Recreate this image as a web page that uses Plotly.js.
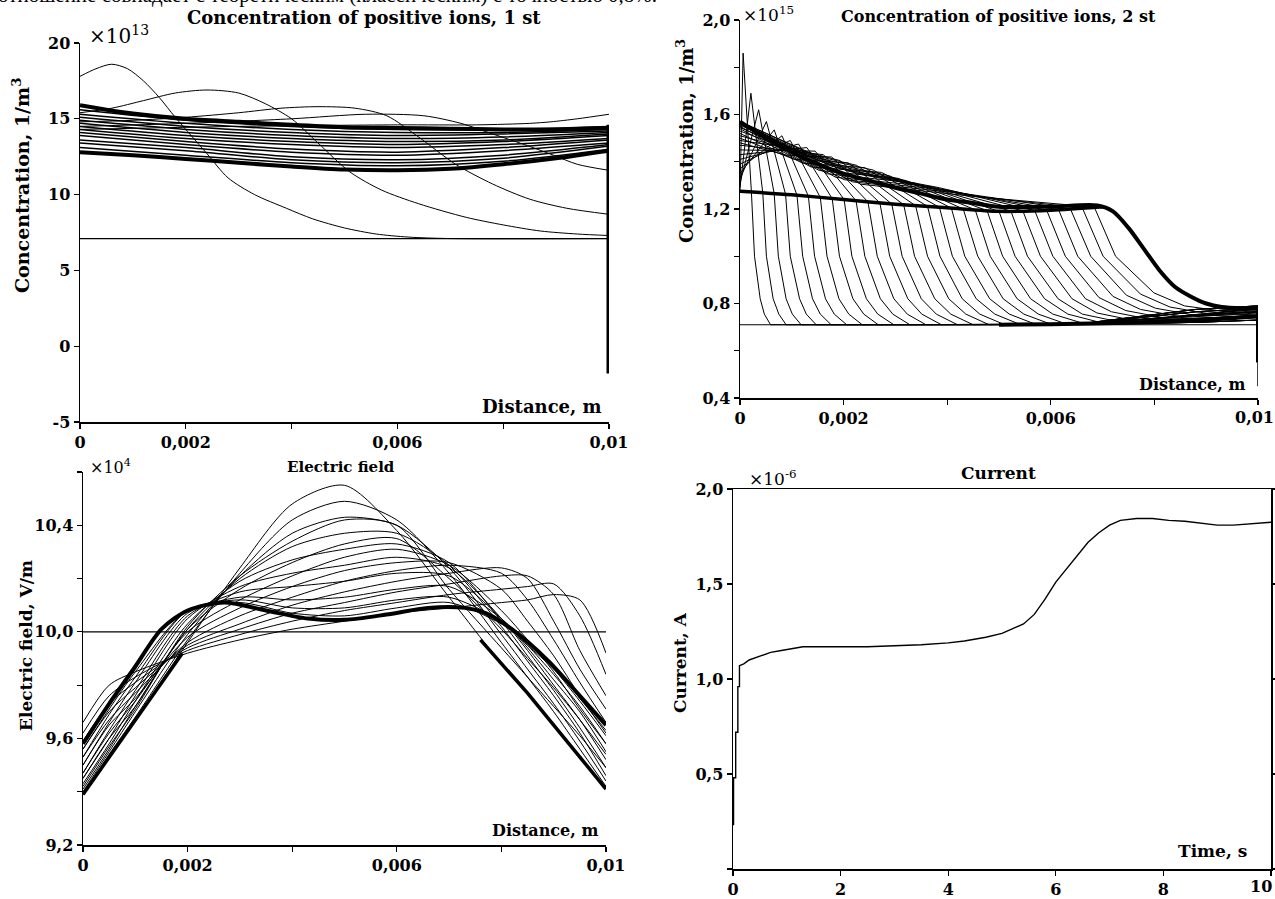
<!DOCTYPE html>
<html><head><meta charset="utf-8">
<script src="https://cdn.plot.ly/plotly-3.0.1.min.js"></script>
<style>html,body{margin:0;padding:0;background:#fff;}#chart{width:1275px;height:899px;}</style>
</head><body><div id="chart"></div>
<script>
// ================= DATA =================
// Panel 1: concentration of positive ions, 1 st  (x in mm, y in 1e13 1/m^3)
const p1BaseX = [0, 10];
const p1BaseY = [7.1, 7.1];
const p1Transients = [
  [[0,0.3,0.6,0.9,1.2,1.5,1.8,2.1,2.4,2.8,3.3,3.9,4.4,5.0,5.6,6.2,7.0,10],
   [17.8,18.3,18.6,18.3,17.5,16.4,15.1,13.9,12.7,11.1,10.0,9.1,8.4,7.8,7.4,7.2,7.1,7.1]],
  [[0,0.6,1.2,1.8,2.4,3.0,3.5,4.0,4.5,5.1,5.7,6.4,7.3,8.0,8.7,9.4,10],
   [15.4,15.7,16.2,16.7,16.9,16.7,16.0,15.0,13.4,11.5,10.3,9.4,8.5,8.0,7.6,7.4,7.3]],
  [[0,1,2,3,3.8,4.5,5.2,5.8,6.4,7.1,7.8,8.5,9.2,10],
   [14.8,14.9,15.1,15.4,15.7,15.8,15.7,15.2,13.8,12.0,10.7,9.7,9.1,8.7]],
  [[0,2,4,5.4,6.5,7.2,7.8,8.4,8.95,9.4,10],
   [14.5,14.7,15.0,15.3,15.2,14.7,14.0,13.3,12.6,12.0,11.6]],
  [[0,3,6,7.5,8.5,8.9,9.4,10],
   [14.3,14.5,14.6,14.6,14.7,14.8,15.0,15.3]]
];
const p1BandX = [0, 2, 4, 6, 8, 10];
const p1BandY = [
  [15.6,14.9,14.5,14.3,14.3,14.5],
  [15.3,14.7,14.3,14.1,14.1,14.3],
  [15.1,14.5,14.1,13.9,14.0,14.2],
  [14.9,14.3,13.9,13.7,13.8,14.1],
  [14.7,14.1,13.7,13.5,13.6,14.0],
  [14.5,13.9,13.5,13.3,13.5,13.9],
  [14.3,13.7,13.3,13.1,13.3,13.7],
  [14.1,13.5,13.0,12.8,13.1,13.6],
  [13.9,13.3,12.8,12.6,12.9,13.4],
  [13.6,13.1,12.5,12.3,12.6,13.3],
  [13.4,12.9,12.3,12.1,12.4,13.2],
  [13.1,12.6,12.1,11.9,12.2,13.0]
];
const p1TopX = [0,0.5,1,2,3,4,5,6,7,8,9,10];
const p1TopY = [15.9,15.6,15.35,15.0,14.8,14.6,14.45,14.4,14.35,14.3,14.3,14.4];
const p1BotX = [0,1,2,3,4,5,6,7,8,9,10];
const p1BotY = [12.8,12.6,12.35,12.1,11.85,11.65,11.6,11.7,12.0,12.4,12.9];
const p1EdgeX = [10, 10];
const p1EdgeY = [14.6, -1.8];

// Panel 2: concentration of positive ions, 2 st (x in mm, y in 1e15 1/m^3)
const p2BaseX = [0, 10];
const p2BaseY = [0.71, 0.71];
const p2Curves = [
  [[0,0.06,0.22,0.28,0.39,0.47,0.59,6.5,8.8,10],[1.275,1.86,1.272,1.0,0.82,0.755,0.71,0.712,0.72,0.73]],
  [[0,0.21,0.44,0.51,0.64,0.75,0.89,6.5,8.8,10],[1.29,1.69,1.268,1.0,0.82,0.755,0.71,0.712,0.735,0.75]],
  [[0,0.36,0.66,0.74,0.89,1.01,1.18,6.5,8.8,10],[1.31,1.62,1.265,1.0,0.82,0.755,0.71,0.712,0.75,0.765]],
  [[0,0.51,0.88,0.97,1.15,1.28,1.47,6.5,8.8,10],[1.33,1.57,1.262,1.0,0.82,0.755,0.71,0.712,0.765,0.78]],
  [[0,0.66,1.10,1.21,1.40,1.55,1.76,6.5,8.8,10],[1.35,1.535,1.258,1.0,0.82,0.755,0.71,0.712,0.775,0.79]],
  [[0,0.81,1.32,1.44,1.65,1.82,2.06,6.5,8.8,10],[1.37,1.51,1.254,1.0,0.82,0.755,0.71,0.712,0.72,0.73]],
  [[0,0.97,1.55,1.68,1.91,2.10,2.36,6.5,8.8,10],[1.39,1.49,1.249,1.0,0.82,0.755,0.71,0.712,0.735,0.75]],
  [[0,1.13,1.78,1.92,2.18,2.39,2.67,6.5,8.8,10],[1.41,1.475,1.244,1.0,0.82,0.755,0.71,0.712,0.75,0.765]],
  [[0,1.29,2.01,2.16,2.44,2.66,2.97,6.5,8.8,10],[1.43,1.46,1.24,1.0,0.82,0.755,0.71,0.712,0.765,0.78]],
  [[0,1.45,2.24,2.41,2.71,2.95,3.28,6.5,8.8,10],[1.45,1.445,1.235,1.0,0.82,0.755,0.71,0.712,0.775,0.79]],
  [[0,1.61,2.47,2.65,2.97,3.23,3.59,6.5,8.8,10],[1.47,1.43,1.23,1.0,0.82,0.755,0.71,0.712,0.72,0.73]],
  [[0,0.89,1.77,2.70,2.89,3.24,3.51,3.89,6.5,8.8,10],[1.48,1.428,1.42,1.226,1.0,0.82,0.755,0.71,0.712,0.735,0.75]],
  [[0,0.97,1.93,2.93,3.13,3.50,3.79,4.20,6.5,8.8,10],[1.49,1.459,1.405,1.221,1.0,0.82,0.755,0.71,0.712,0.75,0.765]],
  [[0,1.05,2.09,3.16,3.37,3.76,4.07,4.50,6.5,8.8,10],[1.50,1.41,1.395,1.218,1.0,0.82,0.755,0.71,0.712,0.765,0.78]],
  [[0,1.13,2.25,3.39,3.62,4.03,4.36,4.81,6.5,8.8,10],[1.51,1.442,1.385,1.214,1.0,0.82,0.755,0.71,0.712,0.775,0.79]],
  [[0,1.21,2.41,3.62,3.86,4.29,4.63,5.11,6.5,8.8,10],[1.52,1.394,1.375,1.211,1.0,0.82,0.755,0.71,0.712,0.72,0.73]],
  [[0,1.29,2.57,3.85,4.10,4.56,4.92,5.42,6.5,8.8,10],[1.53,1.426,1.365,1.207,1.0,0.82,0.755,0.71,0.712,0.735,0.75]],
  [[0,1.37,2.73,4.08,4.34,4.82,5.20,5.73,6.5,8.8,10],[1.54,1.378,1.355,1.204,1.0,0.82,0.755,0.71,0.712,0.75,0.765]],
  [[0,1.45,2.89,4.31,4.59,5.08,5.48,6.03,6.5,8.8,10],[1.545,1.41,1.34,1.20,1.0,0.82,0.755,0.71,0.712,0.765,0.78]],
  [[0,1.53,3.05,4.54,4.83,5.35,5.76,6.34,6.5,8.8,10],[1.55,1.363,1.33,1.197,1.0,0.82,0.755,0.71,0.712,0.775,0.79]],
  [[0,1.61,3.21,4.77,5.07,5.61,6.04,6.64,10],[1.555,1.396,1.32,1.193,1.0,0.82,0.755,0.715,0.74]],
  [[0,1.69,3.37,5.00,5.31,5.88,6.33,6.95,10],[1.56,1.349,1.31,1.19,1.0,0.82,0.755,0.72,0.76]],
  [[0,1.77,3.53,5.23,5.55,6.14,6.61,7.26,10],[1.56,1.381,1.30,1.191,1.0,0.82,0.755,0.725,0.775]],
  [[0,1.85,3.69,5.46,5.80,6.41,6.89,7.56,10],[1.565,1.334,1.295,1.192,1.0,0.82,0.76,0.73,0.745]],
  [[0,1.93,3.85,5.69,6.04,6.67,7.17,7.87,10],[1.565,1.37,1.29,1.193,1.0,0.82,0.765,0.735,0.765]],
  [[0,2.01,4.01,5.92,6.28,6.93,7.45,8.17,10],[1.57,1.324,1.28,1.195,1.0,0.825,0.77,0.74,0.78]],
  [[0,2.09,4.17,6.15,6.52,7.20,7.73,8.48,10],[1.57,1.36,1.27,1.197,1.0,0.83,0.775,0.745,0.755]],
  [[0,2.17,4.33,6.38,6.77,7.46,8.02,8.79,10],[1.57,1.315,1.265,1.20,1.0,0.835,0.78,0.75,0.77]],
  [[0,2.25,4.49,6.61,7.01,7.73,8.30,9.09,10],[1.57,1.35,1.255,1.204,1.0,0.84,0.785,0.755,0.785]],
  [[0,2.33,4.65,6.84,7.25,7.99,8.58,9.40,10],[1.57,1.305,1.25,1.208,1.0,0.845,0.79,0.765,0.775]]
];
const p2TopX = [0,0.5,1,1.5,2,2.5,3,3.5,4,4.5,5,6,6.9,7.2,7.5,7.8,8.1,8.4,8.7,9.0,9.3,9.7,10];
const p2TopY = [1.57,1.50,1.44,1.39,1.35,1.32,1.29,1.265,1.24,1.225,1.21,1.21,1.215,1.19,1.12,1.03,0.94,0.87,0.83,0.80,0.785,0.78,0.78];
const p2LowX = [0,1,2,3,4,5,6,7];
const p2LowY = [1.275,1.26,1.24,1.22,1.205,1.19,1.195,1.21];
const p2FloorX = [5,6,7,8,9,9.6,10];
const p2FloorY = [0.71,0.712,0.716,0.722,0.73,0.74,0.745];
const p2EdgeX = [10, 10];
const p2EdgeY = [0.79, 0.55];
const p2TipX = [10, 10];
const p2TipY = [0.55, 0.45];

// Panel 3: electric field (x in mm, y in 1e4 V/m)
const p3InitX = [0, 10];
const p3InitY = [10.0, 10.0];
const p3GridX = [0,0.5,1,2,3,4,5,6,7,8,8.5,9,9.5,10];
const p3Curves = [
  [9.66,9.80,9.85,9.92,9.97,10.01,10.04,10.07,10.09,10.11,10.12,10.14,10.12,9.92],
  [9.62,9.76,9.83,9.93,9.99,10.04,10.08,10.11,10.14,10.16,10.17,10.18,10.06,9.84],
  [9.59,9.73,9.81,9.94,10.01,10.07,10.11,10.15,10.18,10.21,10.21,10.14,9.93,9.76],
  [9.56,9.70,9.79,9.95,10.03,10.10,10.15,10.19,10.22,10.24,10.20,10.04,9.86,9.71],
  [9.53,9.67,9.77,9.96,10.06,10.13,10.19,10.23,10.25,10.22,10.12,9.97,9.81,9.66],
  [9.50,9.65,9.75,9.98,10.09,10.17,10.23,10.26,10.26,10.16,10.04,9.91,9.76,9.62],
  [9.47,9.62,9.74,10.00,10.12,10.21,10.28,10.31,10.25,10.08,9.97,9.85,9.71,9.58],
  [9.45,9.60,9.72,10.01,10.16,10.26,10.33,10.35,10.20,10.01,9.90,9.79,9.67,9.54],
  [9.42,9.57,9.71,10.02,10.21,10.34,10.42,10.40,10.16,9.94,9.83,9.72,9.61,9.49],
  [9.39,9.53,9.67,9.96,10.24,10.48,10.55,10.38,10.13,9.88,9.77,9.65,9.53,9.41],
  [9.39,9.54,9.68,9.97,10.22,10.42,10.49,10.42,10.22,9.96,9.83,9.70,9.56,9.42],
  [9.40,9.55,9.70,9.99,10.21,10.37,10.43,10.40,10.24,9.99,9.86,9.73,9.59,9.44],
  [9.41,9.56,9.72,10.01,10.20,10.32,10.37,10.37,10.25,10.02,9.89,9.76,9.62,9.46],
  [9.43,9.58,9.74,10.03,10.19,10.27,10.31,10.33,10.26,10.04,9.91,9.78,9.64,9.49],
  [9.45,9.60,9.76,10.05,10.17,10.22,10.25,10.28,10.24,10.05,9.93,9.80,9.67,9.52],
  [9.47,9.63,9.78,10.06,10.15,10.17,10.19,10.22,10.21,10.05,9.94,9.82,9.70,9.55],
  [9.50,9.66,9.81,10.07,10.13,10.12,10.13,10.16,10.17,10.05,9.95,9.84,9.72,9.58],
  [9.53,9.69,9.83,10.08,10.12,10.09,10.09,10.12,10.13,10.04,9.95,9.86,9.74,9.61],
  [9.56,9.71,9.85,10.08,10.11,10.07,10.06,10.09,10.11,10.03,9.96,9.87,9.75,9.63]
];
const p3SteadyX = [0,0.5,1.0,1.5,2.0,2.7,3.5,4.3,5.0,5.8,6.6,7.3,7.7,8.2,8.9,9.5,10];
const p3SteadyY = [9.58,9.73,9.87,10.01,10.08,10.11,10.08,10.05,10.045,10.065,10.09,10.09,10.07,10.01,9.89,9.76,9.65];
const p3LeftEdgeX = [0, 0.5, 1, 1.5, 1.9];
const p3LeftEdgeY = [9.39, 9.53, 9.67, 9.81, 9.92];
const p3RightEdgeX = [7.6, 8, 8.5, 9, 9.5, 10];
const p3RightEdgeY = [9.97, 9.88, 9.77, 9.65, 9.53, 9.41];

// Panel 4: current (time s, current 1e-6 A)
const p4Time = [0.01,0.01,0.05,0.05,0.09,0.09,0.12,0.12,0.2,0.3,0.5,0.7,0.9,1.1,1.3,1.6,2.0,2.5,3.0,3.5,4.0,4.3,4.7,5.0,5.2,5.4,5.6,5.8,6.0,6.2,6.4,6.6,6.8,7.0,7.2,7.5,7.8,8.1,8.4,8.7,9.0,9.3,9.6,10.0];
const p4Current = [0.23,0.48,0.48,0.72,0.72,0.96,0.96,1.07,1.08,1.10,1.12,1.14,1.15,1.16,1.17,1.17,1.17,1.17,1.175,1.18,1.19,1.20,1.22,1.24,1.265,1.29,1.34,1.42,1.51,1.58,1.65,1.72,1.77,1.81,1.835,1.845,1.845,1.835,1.83,1.82,1.81,1.81,1.815,1.825];

// tick labels
const distTickVals = [0,2,4,6,8,10];
const distTickText = ['0','0,002','','0,006','','0,01'];
const distTickTextEdge = ['0','0,002','','0,006','',''];   // last label drawn as a note (right edge)
const p1TickVals = [-5,0,5,10,15,20];
const p1TickText = ['-5','0','5','10','15','20'];
const p2TickVals = [0.4,0.6,0.8,1.0,1.2,1.4,1.6,1.8,2.0];
const p2TickText = ['0,4','','0,8','','1,2','','1,6','','2,0'];
const p3TickVals = [9.2,9.4,9.6,9.8,10.0,10.2,10.4,10.6];
const p3TickText = ['9,2','','9,6','','10,0','','10,4',''];
const p4TickValsY = [0,0.5,1.0,1.5,2.0];
const p4TickTextY = ['','0,5','1,0','1,5','2,0'];
const p4TickValsX = [0,2,4,6,8,10];
const p4TickTextX = ['0','2','4','6','8',''];    // "10" drawn as a note (right edge)

// ================= BUILD =================
const W = 1275, H = 899;
const px = v => v / W;
const py = v => 1 - v / H;
const K = '#000';
const traces = [];
function line(x, y, ax, w, shape) {
  traces.push({x: x, y: y, type: 'scatter', mode: 'lines', xaxis: ax[0], yaxis: ax[1],
    line: {color: K, width: w, shape: shape || 'linear', smoothing: 0.8}, hoverinfo: 'skip'});
}
const A1 = ['x','y'], A2 = ['x2','y2'], A3 = ['x3','y3'], A4 = ['x4','y4'];

// panel 1
line(p1BaseX, p1BaseY, A1, 1.2);
p1Transients.forEach(c => line(c[0], c[1], A1, 1, 'spline'));
p1BandY.forEach(ys => line(p1BandX, ys, A1, 1.5, 'spline'));
line(p1TopX, p1TopY, A1, 4, 'spline');
line(p1BotX, p1BotY, A1, 4, 'spline');
line(p1EdgeX, p1EdgeY, A1, 5);

// panel 2
line(p2BaseX, p2BaseY, A2, 1.2);
p2Curves.forEach(c => line(c[0], c[1], A2, 1));
line(p2TopX, p2TopY, A2, 4, 'spline');
line(p2LowX, p2LowY, A2, 3.5, 'spline');
line(p2FloorX, p2FloorY, A2, 4, 'spline');
line(p2EdgeX, p2EdgeY, A2, 4);
line(p2TipX, p2TipY, A2, 1.5);

// panel 3
line(p3InitX, p3InitY, A3, 1.2);
p3Curves.forEach(ys => line(p3GridX, ys, A3, 1, 'spline'));
line(p3LeftEdgeX, p3LeftEdgeY, A3, 3.5);
line(p3RightEdgeX, p3RightEdgeY, A3, 3.5);
line(p3SteadyX, p3SteadyY, A3, 4, 'spline');

// panel 4
line(p4Time, p4Current, A4, 1.4);

const tickFont = {family: 'DejaVu Serif', size: 16, color: K, weight: 'bold'};
function axis(dom, rng, tv, tt, extra) {
  return Object.assign({domain: dom, range: rng, tickmode: 'array', tickvals: tv, ticktext: tt,
    showline: true, linecolor: K, linewidth: 1.5, ticks: 'outside', ticklen: 5, tickwidth: 1.2, tickcolor: K,
    showgrid: false, zeroline: false, tickfont: tickFont, fixedrange: true,
    ticklabeloverflow: 'allow'}, extra || {});
}

const layout = {
  width: W, height: H, margin: {l: 0, r: 0, t: 0, b: 0},
  paper_bgcolor: '#fff', plot_bgcolor: 'rgba(0,0,0,0)', showlegend: false, hovermode: false,
  xaxis: axis([px(80), px(609)], [0, 10], distTickVals, distTickText, {anchor: 'y'}),
  yaxis: axis([py(422), py(43)], [-5, 20], p1TickVals, p1TickText, {anchor: 'x'}),
  xaxis2: axis([px(740), px(1258)], [0, 10], distTickVals, distTickTextEdge, {anchor: 'y2'}),
  yaxis2: axis([py(398), py(20)], [0.4, 2.0], p2TickVals, p2TickText, {anchor: 'x2'}),
  xaxis3: axis([px(83), px(606)], [0, 10], distTickVals, distTickText, {anchor: 'y3'}),
  yaxis3: axis([py(845), py(472)], [9.2, 10.6], p3TickVals, p3TickText, {anchor: 'x3'}),
  xaxis4: axis([px(733), px(1271)], [0, 10], p4TickValsX, p4TickTextX, {anchor: 'y4', mirror: true}),
  yaxis4: axis([py(869), py(489)], [0, 2.0], p4TickValsY, p4TickTextY, {anchor: 'x4', mirror: 'ticks'}),
  annotations: []
};

function note(text, x, y, size, opts) {
  layout.annotations.push(Object.assign({text: text, x: px(x), y: py(y), xref: 'paper', yref: 'paper',
    showarrow: false, xanchor: 'center', yanchor: 'middle',
    font: {family: 'DejaVu Serif', size: size, color: K}}, opts || {}));
}
const serif = 'Liberation Serif';
// cut-off line of document text at the very top
note('отношение совпадает с теоретическим (классическим) с точностью 0,8%.', -4, -5, 21,
  {xanchor: 'left', font: {family: serif, size: 21, color: K}});
// panel 1
note('×10<sup>13</sup>', 87, 35, 20, {xanchor: 'left'});
note('<b>Concentration of positive ions, 1 st</b>', 364, 18, 18);
note('<b>Concentration, 1/m<sup>3</sup></b>', 21, 186, 19, {textangle: -90});
note('<b>Distance, m</b>', 542, 406, 18);
// panel 2
note('×10<sup>15</sup>', 741, 14, 17, {xanchor: 'left'});
note('<b>Concentration of positive ions, 2 st</b>', 998, 16, 16);
note('<b>Concentration, 1/m<sup>3</sup></b>', 685, 141, 18, {textangle: -90});
note('<b>Distance, m</b>', 1192, 384, 16);
note('<b>0,01</b>', 1254, 417, 16);
// panel 3
note('×10<sup>4</sup>', 88, 466, 16, {xanchor: 'left'});
note('<b>Electric field</b>', 341, 467, 15);
note('<b>Electric field, V/m</b>', 26, 646, 17, {textangle: -90});
note('<b>Distance, m</b>', 545, 830, 16);
// panel 4
note('×10<sup>-6</sup>', 747, 478, 17, {xanchor: 'left'});
note('<b>Current</b>', 998, 473, 17);
note('<b>Current, A</b>', 680, 663, 17, {textangle: -90});
note('<b>Time, s</b>', 1212, 851, 17);
note('<b>10</b>', 1261, 886, 16);

Plotly.newPlot('chart', traces, layout, {staticPlot: true, displayModeBar: false});
</script>
</body></html>
